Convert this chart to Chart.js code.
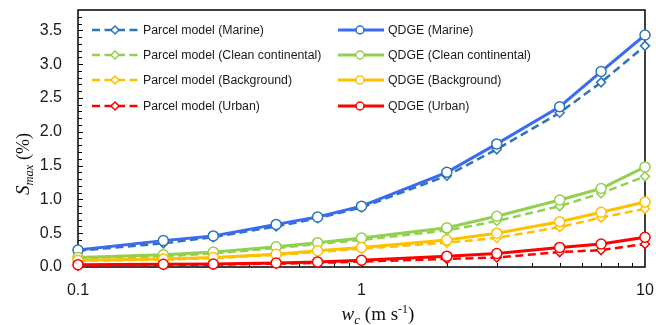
<!DOCTYPE html>
<html>
<head>
<meta charset="utf-8">
<script src="https://cdn.jsdelivr.net/npm/chart.js@4/dist/chart.umd.min.js"></script>
<style>
  html, body { margin: 0; padding: 0; background: #fff; }
</style>
</head>
<body>
<canvas id="c" width="656" height="325"></canvas>
<script>
// Updraft velocity w_c (m s-1)
const wc = [0.1, 0.2, 0.3, 0.5, 0.7, 1, 2, 3, 5, 7, 10];

// Maximum supersaturation S_max (%) — parcel model
const parcelMarine = [0.24, 0.35, 0.44, 0.60, 0.72, 0.88, 1.35, 1.74, 2.28, 2.73, 3.27];
const parcelClean  = [0.13, 0.16, 0.20, 0.28, 0.34, 0.40, 0.54, 0.68, 0.90, 1.09, 1.34];
const parcelBackgr = [0.09, 0.11, 0.13, 0.18, 0.22, 0.27, 0.36, 0.43, 0.59, 0.73, 0.86];
const parcelUrban  = [0.02, 0.03, 0.035, 0.05, 0.06, 0.08, 0.12, 0.14, 0.22, 0.25, 0.34];

// Maximum supersaturation S_max (%) — QDGE
const qdgeMarine = [0.25, 0.39, 0.46, 0.63, 0.74, 0.90, 1.40, 1.82, 2.37, 2.89, 3.43];
const qdgeClean  = [0.14, 0.18, 0.22, 0.30, 0.36, 0.43, 0.58, 0.75, 0.99, 1.16, 1.48];
const qdgeBackgr = [0.10, 0.12, 0.14, 0.19, 0.24, 0.29, 0.40, 0.50, 0.67, 0.81, 0.96];
const qdgeUrban  = [0.035, 0.04, 0.045, 0.06, 0.075, 0.10, 0.16, 0.20, 0.29, 0.34, 0.44];

// Axis tick labels
const xTickLabels = [0.1, 1, 10];
const xMinorTicks = [0.2, 0.3, 0.4, 0.5, 0.6, 0.7, 0.8, 0.9, 2, 3, 4, 5, 6, 7, 8, 9];
const yTickLabels = [0, 0.5, 1.0, 1.5, 2.0, 2.5, 3.0, 3.5];
const yMinorStep = 0.1;

const legendLabels = [
  'Parcel model (Marine)', 'Parcel model (Clean continental)', 'Parcel model (Background)', 'Parcel model (Urban)',
  'QDGE (Marine)', 'QDGE (Clean continental)', 'QDGE (Background)', 'QDGE (Urban)'
];

const toPts = arr => arr.map((v, i) => ({ x: wc[i], y: v }));

const SANS = '"Liberation Sans", Arial, sans-serif';
const SERIF = '"Liberation Serif", "Times New Roman", serif';

function parcelSet(label, data, color, order) {
  return {
    label, data: toPts(data), borderColor: color, borderWidth: 2.5, borderDash: [8, 4.5],
    pointStyle: 'rectRot', pointRadius: 4.5, pointHoverRadius: 4.5,
    pointBackgroundColor: '#fff', pointBorderColor: color, pointBorderWidth: 1.5,
    tension: 0, clip: false, order
  };
}
function qdgeSet(label, data, color, markerColor, order) {
  return {
    label, data: toPts(data), borderColor: color, borderWidth: 3,
    pointStyle: 'circle', pointRadius: 5, pointHoverRadius: 5,
    pointBackgroundColor: '#fff', pointBorderColor: markerColor, pointBorderWidth: 1.5,
    tension: 0, clip: false, order
  };
}

const BLUE_P = '#2E75B6', BLUE_Q = '#3A6BF0', GREEN = '#92D050', GOLD = '#FFC000', RED = '#FF0000';

const datasets = [
  parcelSet(legendLabels[0], parcelMarine, BLUE_P, 8),
  parcelSet(legendLabels[1], parcelClean, GREEN, 6),
  parcelSet(legendLabels[2], parcelBackgr, GOLD, 4),
  parcelSet(legendLabels[3], parcelUrban, RED, 2),
  qdgeSet(legendLabels[4], qdgeMarine, BLUE_Q, BLUE_P, 7),
  qdgeSet(legendLabels[5], qdgeClean, GREEN, GREEN, 5),
  qdgeSet(legendLabels[6], qdgeBackgr, GOLD, GOLD, 3),
  qdgeSet(legendLabels[7], qdgeUrban, RED, RED, 1)
];

// Plot frame with inward tick marks, drawn beneath the data lines
const frame = {
  id: 'frame',
  beforeDatasetsDraw(chart) {
    const ctx = chart.ctx;
    const a = chart.chartArea;
    const xs = chart.scales.x, ys = chart.scales.y;
    ctx.save();
    ctx.setLineDash([]);
    ctx.strokeStyle = '#000';
    ctx.lineWidth = 1;
    ctx.beginPath();
    for (let k = 1; k * yMinorStep < ys.max - 1e-9; k++) {
      const v = k * yMinorStep;
      const y = Math.round(ys.getPixelForValue(v)) + 0.5;
      ctx.moveTo(a.left, y);
      ctx.lineTo(a.left + (k % 5 === 0 ? 5 : 4), y);
    }
    for (const v of xMinorTicks.concat([1])) {
      const x = Math.round(xs.getPixelForValue(v)) + 0.5;
      ctx.moveTo(x, a.bottom);
      ctx.lineTo(x, a.bottom - (v === 1 ? 5 : 4));
    }
    ctx.stroke();
    ctx.lineWidth = 1.5;
    ctx.beginPath();
    ctx.rect(a.left, a.top, a.right - a.left, a.bottom - a.top);
    ctx.stroke();
    ctx.restore();
  }
};

// Two-column legend inside the plot and the axis titles
const annotations = {
  id: 'annotations',
  afterDraw(chart) {
    const ctx = chart.ctx;
    ctx.save();
    ctx.setLineDash([]);

    const rowY = [30, 55, 80, 106];
    const cols = [{ x0: 92, x1: 139, mx: 115, tx: 143 }, { x0: 338, x1: 384, mx: 360, tx: 388 }];
    ctx.font = '12.3px ' + SANS;
    ctx.textBaseline = 'middle';
    ctx.textAlign = 'left';
    datasets.forEach((ds, i) => {
      const col = cols[Math.floor(i / 4)];
      const y = rowY[i % 4];
      ctx.save();
      ctx.strokeStyle = ds.borderColor;
      ctx.lineWidth = ds.borderWidth;
      ctx.setLineDash(ds.borderDash || []);
      ctx.beginPath(); ctx.moveTo(col.x0, y); ctx.lineTo(col.x1, y); ctx.stroke();
      ctx.setLineDash([]);
      ctx.fillStyle = '#fff';
      ctx.strokeStyle = ds.pointBorderColor;
      ctx.lineWidth = 1.5;
      ctx.beginPath();
      if (ds.pointStyle === 'circle') {
        ctx.arc(col.mx, y, 4, 0, Math.PI * 2);
      } else {
        const r = 4;
        ctx.moveTo(col.mx, y - r); ctx.lineTo(col.mx + r, y); ctx.lineTo(col.mx, y + r); ctx.lineTo(col.mx - r, y); ctx.closePath();
      }
      ctx.fill(); ctx.stroke();
      ctx.restore();
      ctx.fillStyle = '#1a1a1a';
      ctx.fillText(ds.label, col.tx, y + 0.5);
    });

    // text made of runs: [text, font, baseline shift]
    function rich(parts, cx, cy) {
      let w = 0;
      parts.forEach(p => { ctx.font = p[1]; w += ctx.measureText(p[0]).width; });
      let x = cx - w / 2;
      ctx.textAlign = 'left';
      ctx.textBaseline = 'alphabetic';
      parts.forEach(p => { ctx.font = p[1]; ctx.fillText(p[0], x, cy + p[2]); x += ctx.measureText(p[0]).width; });
    }
    ctx.fillStyle = '#111';

    // x-axis title: w_c (m s^-1)
    rich([
      ['w', 'italic 19px ' + SERIF, 0],
      ['c', 'italic 13px ' + SERIF, 3.5],
      [' (m s', '19px ' + SERIF, 0],
      ['-1', '12px ' + SERIF, -7],
      [')', '19px ' + SERIF, 0]
    ], 378, 320);

    // y-axis title: S_max (%)
    ctx.save();
    ctx.translate(29, 164);
    ctx.rotate(-Math.PI / 2);
    rich([
      ['S', 'italic 19px ' + SERIF, 0],
      ['max', 'italic 12.5px ' + SERIF, 3.5],
      [' (%)', '18px ' + SERIF, 0]
    ], 0, 0);
    ctx.restore();

    ctx.restore();
  }
};

new Chart(document.getElementById('c'), {
  type: 'line',
  data: { datasets },
  options: {
    responsive: false,
    animation: false,
    layout: { padding: { left: 0, right: 11, top: 10, bottom: 0 } },
    plugins: { legend: { display: false }, tooltip: { enabled: false }, title: { display: false } },
    scales: {
      x: {
        type: 'logarithmic',
        min: 0.1, max: 10,
        afterBuildTicks: s => { s.ticks = xTickLabels.map(v => ({ value: v })); },
        afterFit: s => { s.height = 58; s.paddingLeft = 0; s.paddingRight = 0; },
        ticks: {
          autoSkip: false, maxRotation: 0, padding: 14,
          color: '#1a1a1a', font: { family: SANS, size: 16 },
          callback: v => String(v)
        },
        grid: { display: false, drawTicks: false },
        border: { display: false }
      },
      y: {
        type: 'linear',
        min: 0, max: 3.8,
        afterBuildTicks: s => { s.ticks = yTickLabels.map(v => ({ value: v })); },
        afterFit: s => { s.width = 78; s.paddingTop = 0; s.paddingBottom = 0; },
        ticks: {
          padding: 16, color: '#1a1a1a', font: { family: SANS, size: 16 },
          callback: v => Number(v).toFixed(1)
        },
        grid: { display: false, drawTicks: false },
        border: { display: false }
      }
    }
  },
  plugins: [frame, annotations]
});
</script>
</body>
</html>
